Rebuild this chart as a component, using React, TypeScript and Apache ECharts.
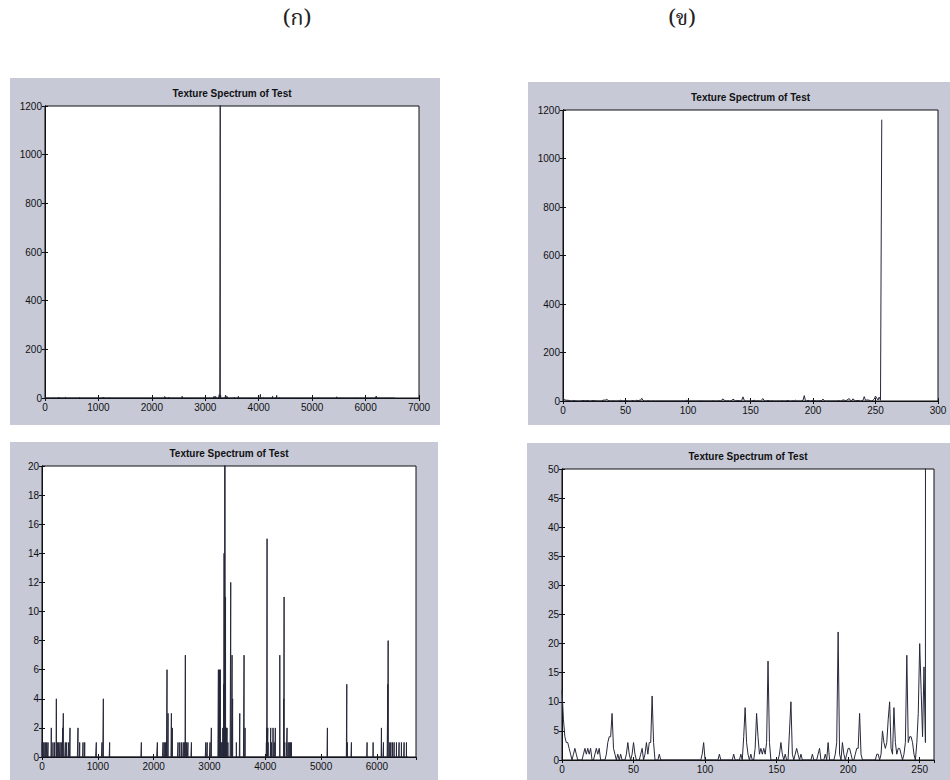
import React, { useEffect, useRef } from "react";
import * as echarts from "echarts";

// ---------- data ----------
const headers = ["(ก)", "(ข)"];
const panelTitle = "Texture Spectrum of Test";

// (ก) 6561-bin texture spectrum: non-zero bins [bin, count]; all other bins are 0
const binsA = 6561;
const spikesA: [number, number][] = [
  [0, 1], [18, 1], [36, 1], [60, 1], [84, 1], [108, 1], [167, 2], [197, 1], [227, 1],
  [257, 4], [275, 1], [299, 1], [323, 1], [346, 1], [370, 2], [382, 3], [418, 1],
  [442, 1], [478, 1], [502, 2], [645, 2], [675, 1], [735, 1], [765, 1], [973, 1],
  [1075, 1], [1099, 4], [1212, 1], [1780, 1], [2067, 1], [2168, 1], [2190, 1],
  [2210, 1], [2228, 1], [2240, 6], [2258, 3], [2318, 3], [2335, 2], [2437, 1],
  [2467, 1], [2497, 1], [2530, 1], [2550, 1], [2568, 7], [2590, 1], [2615, 1],
  [2677, 1], [2934, 1], [2960, 1], [3010, 1], [3034, 2], [3160, 6], [3170, 3],
  [3180, 6], [3195, 6], [3210, 1], [3225, 1], [3240, 2], [3250, 2], [3255, 5],
  [3262, 14], [3270, 5], [3280, 1250], [3288, 11], [3296, 2], [3305, 2], [3315, 2],
  [3330, 1], [3381, 12], [3405, 7], [3415, 4], [3482, 1], [3543, 3], [3620, 7],
  [3638, 2], [4020, 1], [4025, 2], [4032, 15], [4045, 2], [4050, 1], [4097, 2],
  [4110, 1], [4139, 2], [4160, 1], [4180, 2], [4260, 7], [4330, 4], [4337, 11],
  [4350, 1], [4390, 2], [4410, 1], [4430, 1], [4450, 1], [4468, 1], [5113, 2],
  [5460, 5], [5470, 1], [5543, 1], [5824, 1], [5932, 1], [6081, 2], [6117, 1],
  [6195, 5], [6201, 8], [6230, 1], [6250, 1], [6278, 1], [6308, 1], [6350, 1],
  [6397, 1], [6439, 1], [6487, 1], [6529, 1],
];

// (ข) 256-bin texture spectrum, bins 0..255
const spectrumB: number[] = [
  12, 7, 4, 3, 3, 2, 1, 0, 1, 2, 1, 0, 0, 0, 0, 1, 2, 1, 2, 1,
  2, 0, 0, 1, 2, 1, 2, 0, 0, 0, 0, 1, 3, 4, 4, 8, 2, 1, 0, 1,
  0, 1, 0, 0, 0, 1, 3, 1, 0, 1, 3, 1, 0, 0, 0, 1, 2, 0, 1, 3,
  1, 3, 3, 11, 3, 0, 0, 0, 1, 0, 0, 0, 0, 0, 0, 0, 0, 0, 0, 0,
  0, 0, 0, 0, 0, 0, 0, 0, 0, 0, 0, 0, 0, 0, 0, 0, 0, 0, 1, 3,
  0, 0, 0, 0, 0, 0, 0, 0, 0, 0, 1, 0, 0, 0, 0, 0, 0, 0, 0, 0,
  1, 0, 0, 0, 0, 1, 0, 4, 9, 3, 1, 0, 1, 0, 0, 2, 8, 4, 1, 2,
  1, 2, 1, 3, 17, 3, 0, 0, 0, 0, 0, 0, 1, 3, 1, 0, 1, 0, 0, 5,
  10, 1, 0, 1, 2, 1, 0, 1, 0, 0, 0, 0, 0, 0, 0, 1, 0, 0, 0, 1,
  2, 0, 0, 0, 1, 0, 3, 0, 0, 0, 0, 1, 3, 22, 1, 0, 3, 1, 0, 1,
  2, 2, 1, 0, 0, 1, 2, 2, 8, 1, 0, 0, 0, 0, 0, 0, 0, 0, 0, 0,
  1, 1, 0, 1, 5, 3, 2, 3, 7, 10, 2, 1, 9, 3, 1, 2, 2, 1, 0, 1,
  3, 18, 3, 4, 4, 3, 1, 0, 3, 8, 20, 12, 4, 16, 3, 1160,
];

// ---------- layout ----------
type Panel = {
  grid: { left: number; top: number; width: number; height: number };
  bg: { x: number; y: number; w: number; h: number };
  xMax: number; xInt: number; yMax: number; yInt: number;
  set: "A" | "B"; showMaxX: boolean;
};

const panels: Panel[] = [
  { grid: { left: 45, top: 106, width: 374, height: 292 }, bg: { x: 10, y: 78, w: 430, h: 347 },
    xMax: 7000, xInt: 1000, yMax: 1200, yInt: 200, set: "A", showMaxX: true },
  { grid: { left: 563, top: 110, width: 375, height: 291 }, bg: { x: 528, y: 82, w: 422, h: 343 },
    xMax: 300, xInt: 50, yMax: 1200, yInt: 200, set: "B", showMaxX: true },
  { grid: { left: 42, top: 466, width: 374, height: 291 }, bg: { x: 10, y: 442, w: 428, h: 338 },
    xMax: 6700, xInt: 1000, yMax: 20, yInt: 2, set: "A", showMaxX: false },
  { grid: { left: 562, top: 469, width: 372, height: 291 }, bg: { x: 527, y: 443, w: 423, h: 337 },
    xMax: 260, xInt: 50, yMax: 50, yInt: 5, set: "B", showMaxX: false },
];

const LINE = "#26283a";
const AXIS = "#111";
const LABEL_FONT = "Liberation Sans, Arial, sans-serif";
const HEADER_FONT = "22px 'Noto Serif Thai', 'Noto Sans Thai', Garuda, 'DejaVu Serif', serif";

export default function App() {
  const ref = useRef<HTMLDivElement>(null);

  useEffect(() => {
    if (!ref.current) return;
    document.body.style.margin = "0";
    const chart = echarts.init(ref.current, undefined, { renderer: "svg" });

    const fullA: number[] = new Array(binsA).fill(0);
    spikesA.forEach(([i, v]) => { fullA[i] = v; });
    const dataA = fullA.map((v, i) => [i, v]);
    const dataB = spectrumB.map((v, i) => [i, v]);

    const grids: any[] = [];
    const xAxes: any[] = [];
    const yAxes: any[] = [];
    const series: any[] = [];
    const graphics: any[] = [];
    const plain = (v: number) => String(v);

    panels.forEach((p, k) => {
      graphics.push({
        type: "rect", z: -10, silent: true,
        shape: { x: p.bg.x, y: p.bg.y, width: p.bg.w, height: p.bg.h },
        style: { fill: "#c7c9d7" },
      });
      graphics.push({
        type: "text", silent: true,
        x: p.grid.left + p.grid.width / 2, y: p.grid.top - 13,
        style: {
          text: panelTitle, fill: "#111", textAlign: "center", textVerticalAlign: "middle",
          font: "bold 10px " + LABEL_FONT,
        },
      });
      grids.push({
        ...p.grid, show: true, backgroundColor: "#ffffff", borderColor: AXIS, borderWidth: 1,
      });
      const tick = { show: true, inside: true, length: 3, lineStyle: { color: AXIS, width: 1 } };
      const axLine = { show: true, lineStyle: { color: AXIS, width: 1 } };
      const lbl = { color: "#111", fontSize: 10, fontFamily: LABEL_FONT, formatter: plain };
      xAxes.push({
        type: "value", gridIndex: k, position: "bottom", min: 0, max: p.xMax, interval: p.xInt,
        axisLine: axLine, axisTick: tick, splitLine: { show: false },
        axisLabel: { ...lbl, margin: 4, showMaxLabel: p.showMaxX },
      });
      xAxes.push({
        type: "value", gridIndex: k, position: "top", min: 0, max: p.xMax, interval: p.xInt,
        axisLine: axLine, axisTick: tick, splitLine: { show: false }, axisLabel: { show: false },
      });
      yAxes.push({
        type: "value", gridIndex: k, position: "left", min: 0, max: p.yMax, interval: p.yInt,
        axisLine: axLine, axisTick: tick, splitLine: { show: false },
        axisLabel: { ...lbl, margin: 3 },
      });
      yAxes.push({
        type: "value", gridIndex: k, position: "right", min: 0, max: p.yMax, interval: p.yInt,
        axisLine: axLine, axisTick: tick, splitLine: { show: false }, axisLabel: { show: false },
      });
      series.push({
        type: "line", xAxisIndex: 2 * k, yAxisIndex: 2 * k,
        data: p.set === "A" ? dataA : dataB,
        symbol: "none", showSymbol: false, clip: true, silent: true,
        lineStyle: { color: LINE, width: 1 },
      });
    });

    graphics.push({
      type: "text", x: 297, y: 19, silent: true,
      style: { text: headers[0], fill: "#222", textAlign: "center", textVerticalAlign: "middle", font: HEADER_FONT },
    });
    graphics.push({
      type: "text", x: 682, y: 19, silent: true,
      style: { text: headers[1], fill: "#222", textAlign: "center", textVerticalAlign: "middle", font: HEADER_FONT },
    });

    chart.setOption({
      animation: false,
      backgroundColor: "#ffffff",
      grid: grids,
      xAxis: xAxes,
      yAxis: yAxes,
      series,
      graphic: graphics,
    });

    return () => chart.dispose();
  }, []);

  return <div ref={ref} style={{ position: "absolute", left: 0, top: 0, width: 950, height: 780 }} />;
}
